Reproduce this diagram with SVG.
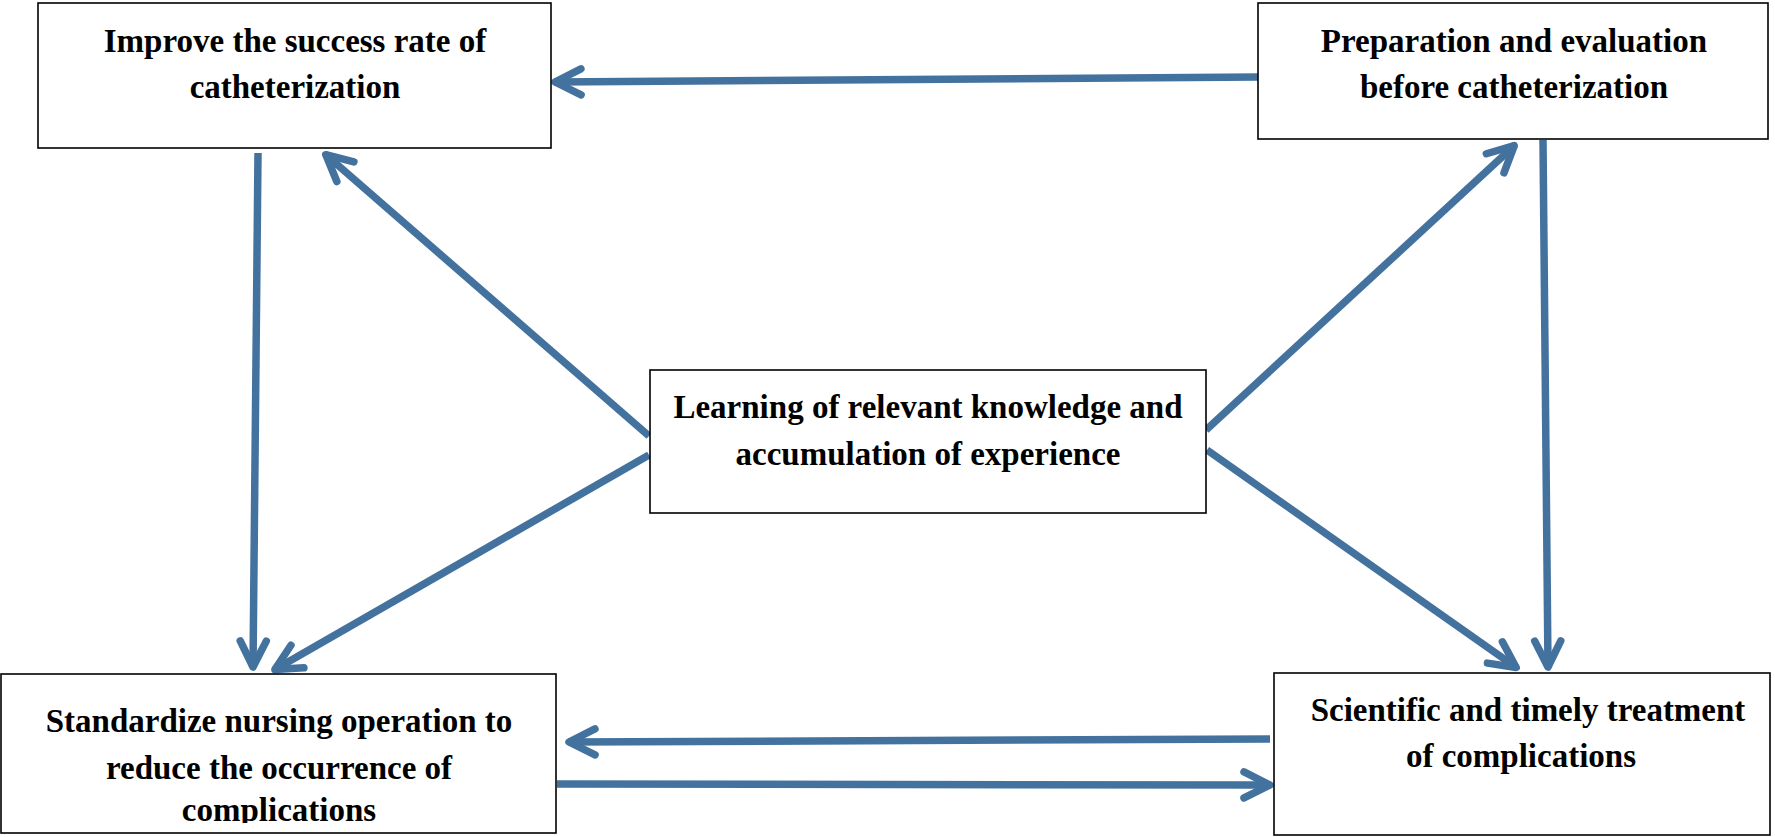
<svg xmlns="http://www.w3.org/2000/svg" width="1775" height="837" viewBox="0 0 1775 837">
<style>
.box{fill:#fff;stroke:#000;stroke-width:1.6}
.t{font-family:"Liberation Serif","Times New Roman",serif;font-weight:bold;font-size:33px;fill:#000;text-anchor:middle}
.c{stroke:#44729E;stroke-width:7.5;fill:none}
</style>
<defs>
<marker id="ah" markerUnits="userSpaceOnUse" markerWidth="60" markerHeight="60" viewBox="-40 -30 60 60" refX="1" refY="0" orient="auto">
<path d="M-26,-13 L0,0 L-26,13" fill="none" stroke="#44729E" stroke-width="7.5" stroke-linecap="round" stroke-linejoin="round"/>
</marker>
<clipPath id="clip3"><rect x="0" y="674" width="556" height="149"/></clipPath>
</defs>
<rect width="1775" height="837" fill="#fff"/>
<g id="connectors">
<line class="c" x1="1259" y1="77" x2="554" y2="82" marker-end="url(#ah)"/>
<line class="c" x1="258" y1="153" x2="253" y2="668" marker-end="url(#ah)"/>
<line class="c" x1="649" y1="436" x2="325" y2="154" marker-end="url(#ah)"/>
<line class="c" x1="649" y1="455" x2="274" y2="670" marker-end="url(#ah)"/>
<line class="c" x1="1206" y1="430" x2="1515" y2="145" marker-end="url(#ah)"/>
<line class="c" x1="1543" y1="140" x2="1548" y2="668" marker-end="url(#ah)"/>
<line class="c" x1="1207" y1="450" x2="1517" y2="668" marker-end="url(#ah)"/>
<line class="c" x1="1270" y1="739" x2="568" y2="742" marker-end="url(#ah)"/>
<line class="c" x1="557" y1="784" x2="1271" y2="785" marker-end="url(#ah)"/>
</g>
<g id="node-improve">
<rect class="box" x="38" y="3" width="513" height="145"/>
<text class="t" x="295" y="52">Improve the success rate of</text>
<text class="t" x="295" y="98">catheterization</text>
</g>
<g id="node-preparation">
<rect class="box" x="1258" y="3" width="510" height="136"/>
<text class="t" x="1514" y="52">Preparation and evaluation</text>
<text class="t" x="1514" y="98">before catheterization</text>
</g>
<g id="node-learning">
<rect class="box" x="650" y="370" width="556" height="143"/>
<text class="t" x="928" y="418">Learning of relevant knowledge and</text>
<text class="t" x="928" y="465">accumulation of experience</text>
</g>
<g id="node-standardize">
<rect class="box" x="1" y="674" width="555" height="159"/>
<text class="t" x="279" y="732">Standardize nursing operation to</text>
<text class="t" x="279" y="779">reduce the occurrence of</text>
<text class="t" x="279" y="821" clip-path="url(#clip3)">complications</text>
</g>
<g id="node-scientific">
<rect class="box" x="1274" y="673" width="496" height="162"/>
<text class="t" x="1528" y="721">Scientific and timely treatment</text>
<text class="t" x="1521" y="767">of complications</text>
</g>
</svg>
